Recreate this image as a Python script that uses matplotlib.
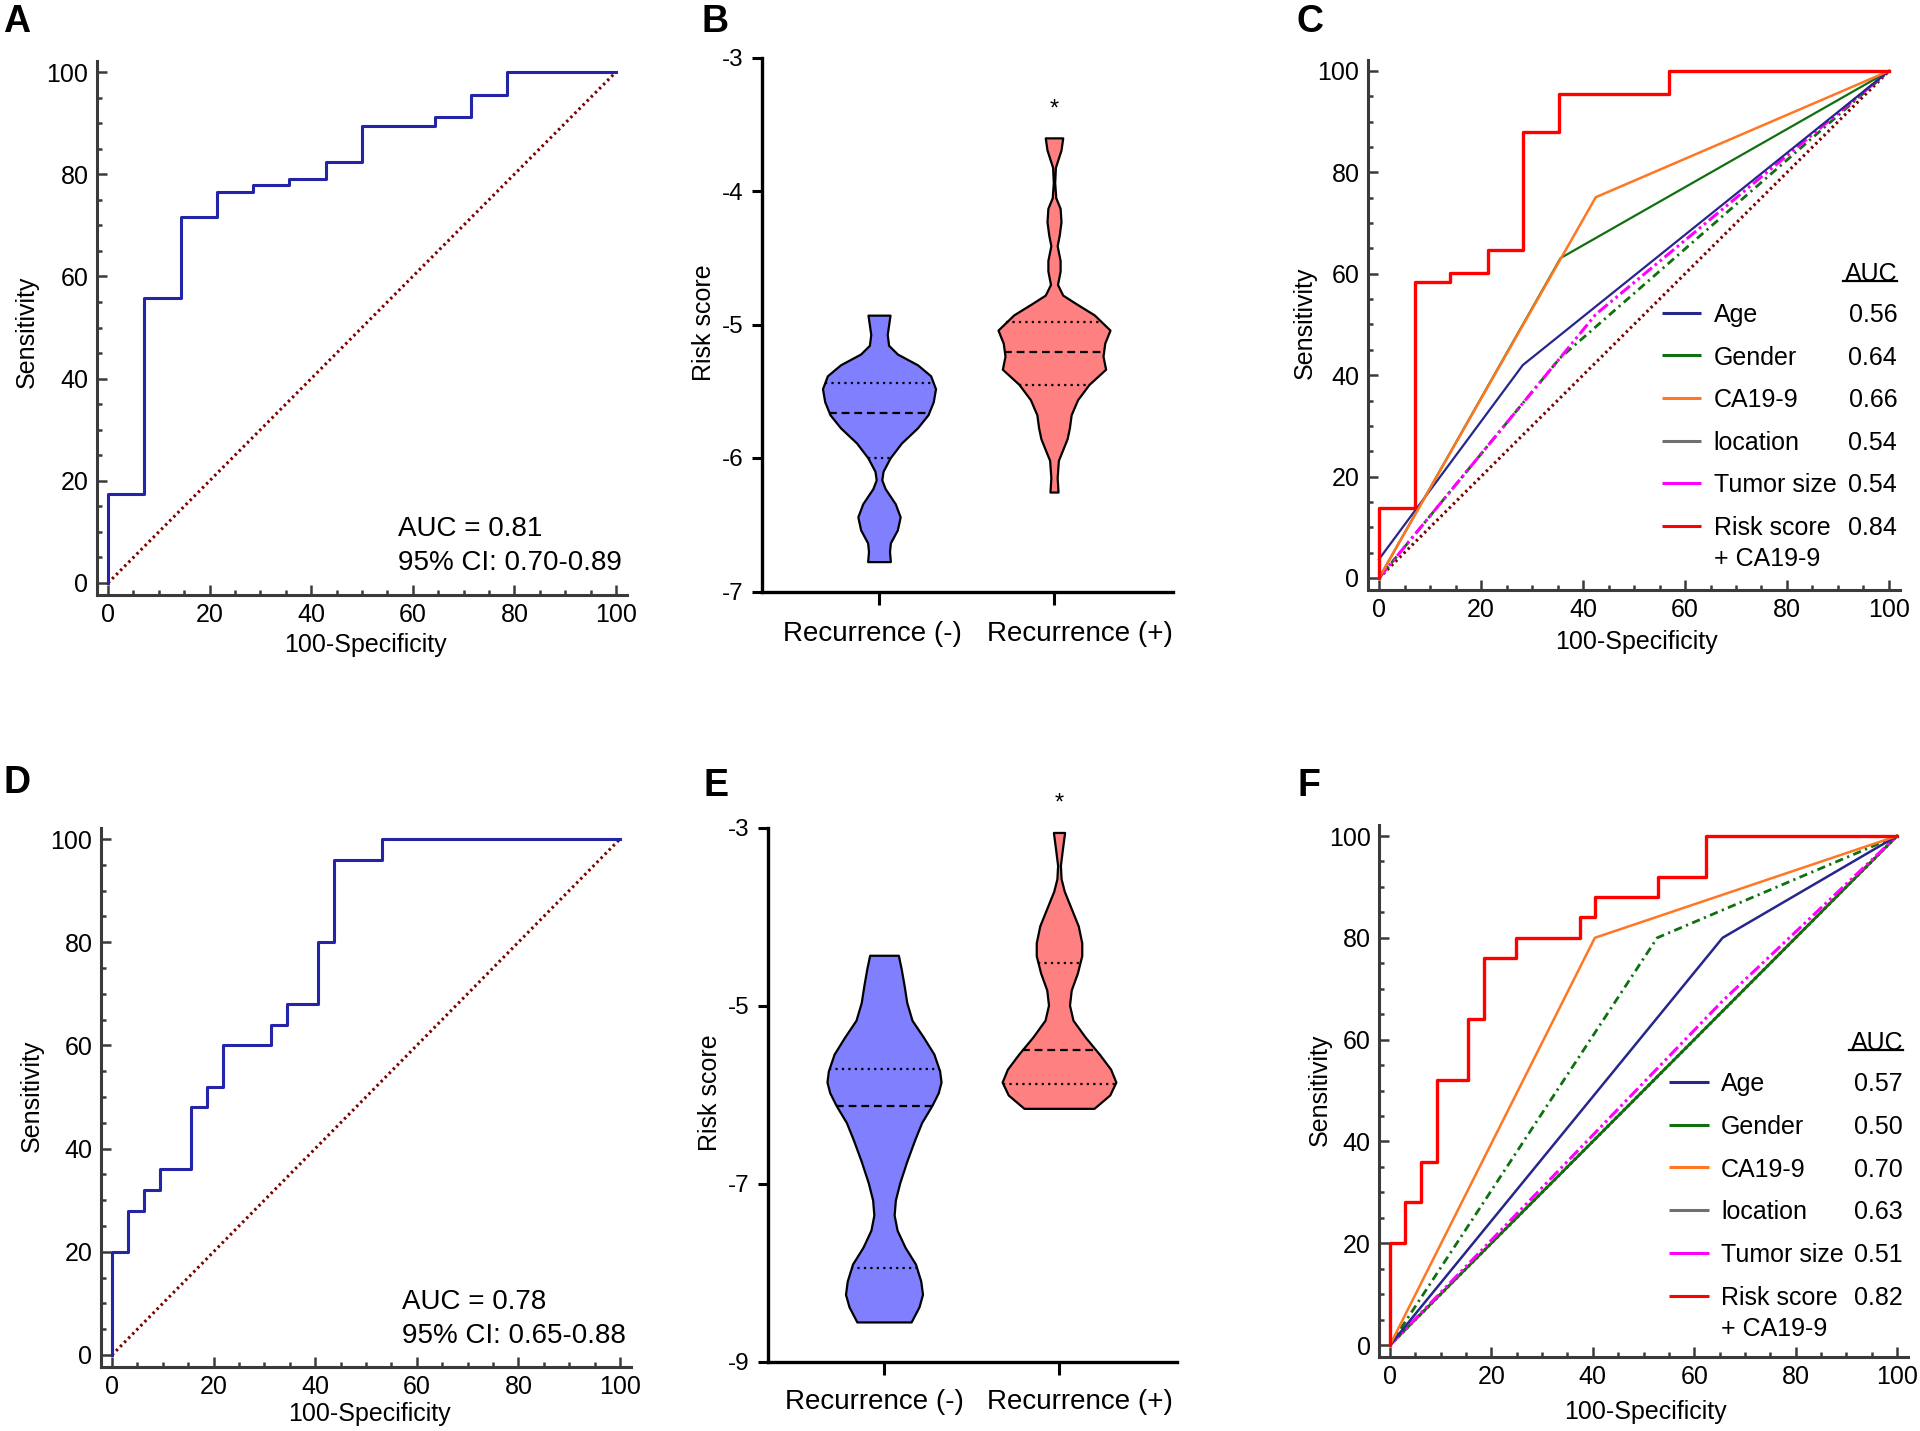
import numpy as np
import matplotlib
matplotlib.use('Agg')
import matplotlib.pyplot as plt
from matplotlib.ticker import MultipleLocator

plt.rcParams['font.family'] = ['Liberation Sans', 'DejaVu Sans']
plt.rcParams['axes.unicode_minus'] = False

W, H = 1920, 1431

# ---------------- data ----------------
# A: ROC of the risk score (training set), step curve
a_fpr = [0, 7.14, 14.29, 21.43, 28.57, 35.71, 42.86, 50.0, 64.29, 71.43, 78.57, 100]
a_tpr = [0, 17.5, 55.8, 71.7, 76.5, 77.8, 79.1, 82.3, 89.4, 91.1, 95.5, 100]

# D: ROC of the risk score (validation set)
d_fpr = [0, 3.12, 6.25, 9.38, 15.62, 18.75, 21.88, 31.25, 34.38, 40.62, 43.75, 53.12, 100]
d_tpr = [0, 20, 28, 32, 36, 48, 52, 60, 64, 68, 80, 96, 100]

# B / E: violin outlines (risk score level, half width) and quartiles
b_neg_y = [-4.93, -5.075, -5.156, -5.221, -5.302, -5.384, -5.481, -5.579, -5.676, -5.774,
           -5.888, -6.00, -6.10, -6.164, -6.229, -6.343, -6.441, -6.538, -6.636, -6.70, -6.776]
b_neg_w = [0.063, 0.047, 0.055, 0.105, 0.22, 0.295, 0.323, 0.31, 0.28, 0.22,
           0.128, 0.063, 0.023, 0.016, 0.035, 0.093, 0.121, 0.105, 0.065, 0.06, 0.065]
b_pos_y = [-3.602, -3.693, -3.823, -3.937, -4.05, -4.13, -4.23, -4.33, -4.41, -4.52, -4.60,
           -4.70, -4.78, -4.847, -4.928, -5.042, -5.14, -5.237, -5.335, -5.449, -5.563,
           -5.676, -5.774, -5.855, -5.937, -6.018, -6.148, -6.255]
b_pos_w = [0.05, 0.04, 0.008, 0.004, 0.01, 0.035, 0.04, 0.03, 0.018, 0.035, 0.035,
           0.02, 0.05, 0.13, 0.23, 0.32, 0.29, 0.28, 0.295, 0.2, 0.135,
           0.098, 0.088, 0.075, 0.05, 0.025, 0.018, 0.023]
b_neg_quart = [-6.00, -5.66, -5.44]
b_pos_quart = [-5.45, -5.205, -4.985]

e_neg_y = [-4.43, -4.58, -4.77, -4.96, -5.16, -5.35, -5.54, -5.73, -5.855, -5.975, -6.12,
           -6.31, -6.505, -6.746, -6.986, -7.18, -7.35, -7.52, -7.71, -7.90, -8.09, -8.24,
           -8.38, -8.55]
e_neg_w = [0.082, 0.098, 0.115, 0.13, 0.16, 0.225, 0.285, 0.318, 0.326, 0.31, 0.273,
           0.215, 0.175, 0.13, 0.09, 0.065, 0.058, 0.075, 0.12, 0.18, 0.21, 0.22,
           0.2, 0.155]
e_pos_y = [-3.05, -3.23, -3.42, -3.57, -3.71, -3.905, -4.10, -4.29, -4.435, -4.63, -4.82,
           -4.99, -5.16, -5.35, -5.54, -5.71, -5.855, -6.00, -6.15]
e_pos_w = [0.032, 0.02, 0.008, 0.012, 0.03, 0.07, 0.11, 0.13, 0.13, 0.105, 0.07,
           0.06, 0.08, 0.15, 0.23, 0.295, 0.325, 0.29, 0.2]
e_neg_quart = [-7.94, -6.12, -5.71]
e_pos_quart = [-5.88, -5.49, -4.52]

groups = ['Recurrence (-)', 'Recurrence (+)']

# C: ROC of clinical factors (training set)
c_age_x, c_age_y = [0, 28.2, 100], [3.7, 42.0, 100]
c_gender_x, c_gender_y = [0, 35.6, 100], [0, 63.1, 100]
c_ca199_x, c_ca199_y = [0, 42.5, 100], [0, 75.1, 100]
c_loc_x, c_loc_y = [0, 35.5, 100], [0, 43.4, 100]
c_tumor_x, c_tumor_y = [0, 35.5, 42.5, 100], [0, 43.4, 52.0, 100]
c_combo_x = [0, 7.06, 13.9, 21.3, 28.2, 35.3, 56.8, 100]
c_combo_y = [0, 13.9, 58.4, 60.1, 64.6, 88.0, 95.5, 100]
c_auc = ['0.56', '0.64', '0.66', '0.54', '0.54', '0.84']

# F: ROC of clinical factors (validation set)
f_age_x, f_age_y = [0, 65.6, 100], [0, 80, 100]
f_gender_x, f_gender_y = [0, 100], [0, 100]
f_ca199_x, f_ca199_y = [0, 40.4, 100], [0, 80, 100]
f_loc_x, f_loc_y = [0, 52.7, 100], [0, 80, 100]
f_tumor_x, f_tumor_y = [0, 65.6, 100], [0, 67.6, 100]
f_combo_x = [0, 3.0, 6.1, 9.3, 15.4, 18.6, 24.8, 37.4, 40.4, 52.8, 62.3, 100]
f_combo_y = [0, 20, 28, 36, 52, 64, 76, 80, 84, 88, 92, 100]
f_auc = ['0.57', '0.50', '0.70', '0.63', '0.51', '0.82']

legend_names = ['Age', 'Gender', 'CA19-9', 'location', 'Tumor size', 'Risk score']

# colours
NAVY = '#26268c'
ROCBLUE = '#2424a8'
GREEN = '#107010'
ORANGE = '#ff7722'
GREY = '#707070'
MAGENTA = '#ff00ff'
RED = '#ff0000'
DIAG = '#7b0000'
AXC = '#3a3a3a'

fig = plt.figure(figsize=(W / 100, H / 100), dpi=100)


def add_axes_px(left, top, right, bottom):
    return fig.add_axes([left / W, 1 - bottom / H, (right - left) / W, (bottom - top) / H])


def fig_text_px(x, y, s, **kw):
    fig.text(x / W, 1 - y / H, s, **kw)


def roc_axes(x0, x100, y0, y100, ylab_xy, xlab_xy):
    xl, xr, yb, yt = -2.2, 102.2, -2.3, 102.2
    sx = (x100 - x0) / 100
    sy = (y0 - y100) / 100
    ax = add_axes_px(x0 + xl * sx, y0 - yt * sy, x0 + xr * sx, y0 - yb * sy)
    ax.set_xlim(xl, xr)
    ax.set_ylim(yb, yt)
    for s in ['top', 'right']:
        ax.spines[s].set_visible(False)
    for s in ['left', 'bottom']:
        ax.spines[s].set_linewidth(2.2)
        ax.spines[s].set_color(AXC)
    ax.xaxis.set_major_locator(MultipleLocator(20))
    ax.yaxis.set_major_locator(MultipleLocator(20))
    ax.xaxis.set_minor_locator(MultipleLocator(5))
    ax.yaxis.set_minor_locator(MultipleLocator(5))
    ax.tick_params(which='major', direction='in', length=7, width=1.8, color=AXC,
                   labelsize=18, pad=6)
    ax.tick_params(which='minor', direction='in', length=3.6, width=1.8, color=AXC)
    fig_text_px(*ylab_xy, 'Sensitivity', fontsize=18, rotation=90, ha='center', va='center')
    fig_text_px(*xlab_xy, '100-Specificity', fontsize=18, ha='center', va='center')
    ax.plot([0, 100], [0, 100], color=DIAG, lw=2.2, linestyle=(0, (0.8, 1.1)), zorder=1)
    return ax


def violin_axes(c0, c1, top_px, bot_px, ylo, yhi, step, xlim, ylab_xy, cat_centers, cat_y):
    s = c1 - c0
    ax = add_axes_px(c0 + xlim[0] * s, top_px, c0 + xlim[1] * s, bot_px)
    ax.set_xlim(*xlim)
    ax.set_ylim(ylo, yhi)
    for sp in ['top', 'right']:
        ax.spines[sp].set_visible(False)
    for sp in ['left', 'bottom']:
        ax.spines[sp].set_linewidth(2.4)
        ax.spines[sp].set_color('black')
    ticks = np.arange(yhi, ylo - 0.01, -step)
    ax.set_yticks(ticks)
    ax.set_yticklabels([f'{v:.0f}' for v in ticks])
    ax.set_xticks([0, 1])
    ax.set_xticklabels(['', ''])
    ax.tick_params(axis='y', direction='out', length=7, width=2.2, labelsize=17.5, pad=6)
    ax.tick_params(axis='x', direction='out', length=9, width=2.2)
    fig_text_px(*ylab_xy, 'Risk score', fontsize=18, rotation=90, ha='center', va='center')
    for g, cx in zip(groups, cat_centers):
        fig_text_px(cx, cat_y, g, fontsize=20, ha='center', va='center')
    return ax


def draw_violin(ax, pos, ys, ws, quarts, color):
    ys = np.array(ys)
    ws = np.array(ws)
    ax.fill_betweenx(ys, pos - ws, pos + ws, facecolor=color, edgecolor='black',
                     linewidth=1.6, zorder=2)
    for i, q in enumerate(quarts):
        hw = np.interp(q, ys[::-1], ws[::-1])
        ls = (0, (3.5, 2.2)) if i == 1 else (0, (1, 1.9))
        ax.plot([pos - hw, pos + hw], [q, q], color='black', lw=1.6, linestyle=ls, zorder=3)


def roc_legend(ax, aucs, colors, y_first, x_line, x_text, x_val):
    step = 8.4
    ax.text(x_val, y_first + 8.1 - 1.8, 'AUC', ha='right', va='baseline', fontsize=18)
    ax.plot([x_val - 10.6, x_val], [y_first + 6.3, y_first + 6.3], color='black', lw=1.6,
            clip_on=False)
    for i, (name, auc, col) in enumerate(zip(legend_names, aucs, colors)):
        y = y_first - i * step
        ax.plot(x_line, [y, y], color=col, lw=2.2, solid_capstyle='butt', clip_on=False)
        ax.text(x_text, y - 1.8, name, ha='left', va='baseline', fontsize=18)
        ax.text(x_val, y - 1.8, auc, ha='right', va='baseline', fontsize=18)
    ax.text(x_text, y_first - 5 * step - 6.1 - 1.8, '+ CA19-9', ha='left', va='baseline',
            fontsize=18)


legend_colors = [NAVY, GREEN, ORANGE, GREY, MAGENTA, RED]
LOC_LS = (0, (3, 1.6, 0.8, 1.6))
TUM_LS = (0, (4, 1.2, 0.9, 1.2, 0.9, 1.2))

# ---------------- A ----------------
axA = roc_axes(108, 616, 583, 72, (27, 332), (365, 645))
axA.plot(a_fpr, a_tpr, drawstyle='steps-pre', color=ROCBLUE, lw=2.2, zorder=3)
axA.text(57.1, 9.1, 'AUC = 0.81', fontsize=20, va='baseline')
axA.text(57.1, 2.5, '95% CI: 0.70-0.89', fontsize=20, va='baseline')

# ---------------- D ----------------
axD = roc_axes(112, 620, 1355, 839, (32, 1096), (369, 1414))
axD.plot(d_fpr, d_tpr, drawstyle='steps-pre', color=ROCBLUE, lw=2.2, zorder=3)
axD.text(57.0, 8.9, 'AUC = 0.78', fontsize=20, va='baseline')
axD.text(57.0, 2.3, '95% CI: 0.65-0.88', fontsize=20, va='baseline')

# ---------------- B ----------------
axB = violin_axes(879, 1054, 57.5, 591.5, -7, -3, 1, (-0.669, 1.68),
                  (704, 323), (872, 1080), 634)
draw_violin(axB, 0, b_neg_y, b_neg_w, b_neg_quart, '#8080ff')
draw_violin(axB, 1, b_pos_y, b_pos_w, b_pos_quart, '#ff8080')
axB.text(1, -3.39, '*', ha='center', va='center', fontsize=17)

# ---------------- E ----------------
axE = violin_axes(884, 1059, 828, 1362, -9, -3, 2, (-0.663, 1.674),
                  (710, 1093), (874, 1080), 1402)
draw_violin(axE, 0, e_neg_y, e_neg_w, e_neg_quart, '#8080ff')
draw_violin(axE, 1, e_pos_y, e_pos_w, e_pos_quart, '#ff8080')
axE.text(1, -2.72, '*', ha='center', va='center', fontsize=17, clip_on=False)

# ---------------- C ----------------
axC = roc_axes(1379, 1889, 578, 71, (1305, 323), (1636, 642))
axC.plot(c_loc_x, c_loc_y, color=GREEN, lw=2.0, linestyle=LOC_LS, zorder=2)
axC.plot(c_tumor_x, c_tumor_y, color=MAGENTA, lw=2.2, linestyle=TUM_LS, zorder=2)
axC.plot(c_gender_x, c_gender_y, color=GREEN, lw=1.6, zorder=3)
axC.plot(c_age_x, c_age_y, color=NAVY, lw=1.6, zorder=3)
axC.plot(c_ca199_x, c_ca199_y, color=ORANGE, lw=1.8, zorder=3)
axC.plot(c_combo_x, c_combo_y, drawstyle='steps-pre', color=RED, lw=2.4, zorder=4)
roc_legend(axC, c_auc, legend_colors, 52.3, [55.4, 63.2], 65.6, 101.6)

# ---------------- F ----------------
axF = roc_axes(1390, 1897, 1345, 836, (1320, 1090), (1645, 1412))
axF.plot(f_gender_x, f_gender_y, color=GREEN, lw=2.0, zorder=2)
axF.plot(f_tumor_x, f_tumor_y, color=MAGENTA, lw=2.2, linestyle=TUM_LS, zorder=2)
axF.plot(f_loc_x, f_loc_y, color=GREEN, lw=2.0, linestyle=LOC_LS, zorder=3)
axF.plot(f_age_x, f_age_y, color=NAVY, lw=1.8, zorder=3)
axF.plot(f_ca199_x, f_ca199_y, color=ORANGE, lw=1.8, zorder=3)
axF.plot(f_combo_x, f_combo_y, drawstyle='steps-pre', color=RED, lw=2.4, zorder=4)
roc_legend(axF, f_auc, legend_colors, 51.7, [55.1, 62.9], 65.3, 101.2)

# panel letters
for letter, (px, py) in zip('ABCDEF', [(3, 4), (702, 4), (1297, 4),
                                      (3, 765), (703, 768), (1298, 768)]):
    fig_text_px(px, py, letter, fontsize=27, fontweight='bold', ha='left', va='top')

fig.savefig('out.png', dpi=100)
